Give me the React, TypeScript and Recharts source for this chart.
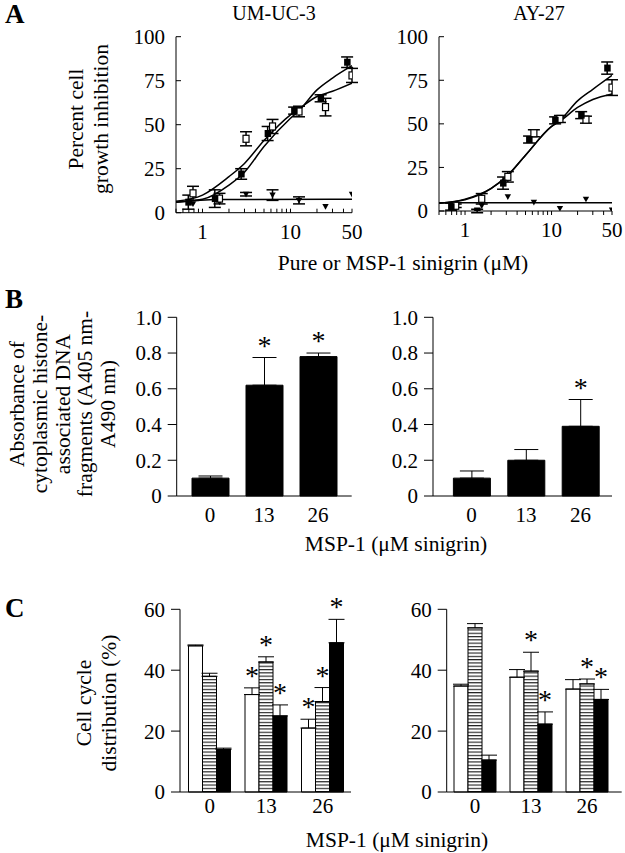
import React from 'react';
import { ComposedChart, BarChart, Bar, Line, Scatter, XAxis, YAxis, ErrorBar, LabelList } from 'recharts';

const FONT = '"Liberation Serif", "Times New Roman", serif';

// ---- Panel A: growth inhibition vs dose (log scale) ----
const pureDose = [0.78, 1.56, 3.125, 6.25, 12.5, 25, 50];
const mspDose = [0.69, 1.38, 2.75, 5.5, 11, 22, 44];
const fitDose = [0.5, 1, 2, 3, 5, 10, 12.5, 20, 30, 50];
const ctrlFitDose = [0.5, 1.5, 50];
const logTicks = [0.5, 0.6, 0.7, 0.8, 0.9, 1, 2, 3, 4, 5, 6, 7, 8, 9, 10, 20, 30, 40, 50];
const doseTickLabels = ['1', '10', '50'];
const pctTicks = [0, 25, 50, 75, 100];

const umMsp = [6, 8, 22, 45, 58, 65, 85.5];
const umMspErr = [4, 5, 3, 4, 2, 2, 3];
const umPure = [11, 8, 42, 49, 57.5, 60, 78];
const umPureErr = [4, 3, 4, 4, 3, 5, 4];
const umCtrl = [5, 6, 10.5, 10, 7, 3.5, 10.5];
const umCtrlErr = [0, 0, 1, 3, 2, 0, 0];
const umFitMsp = [6, 7.6, 15.7, 23, 37.6, 53.7, 58, 69.8, 76.5, 83.5];
const umFitPure = [6.5, 10, 20.5, 28, 41, 55.6, 59, 66, 69, 73.6];
const umFitCtrl = [6, 7.5, 7.6];

const ayMsp = [2.5, 0, 16, 41, 52, 55, 82];
const ayMspErr = [2, 1, 3.5, 2, 2, 2, 3.5];
const ayPure = [3, 7, 19.6, 44.6, 52.8, 52.4, 70.8];
const ayPureErr = [1, 3, 3, 2, 2, 2, 4.5];
const ayCtrl = [1.5, 3, 8.2, 5, 1.5, 6.8, 0.6];
const ayCtrlErr = [0, 0, 0, 0, 0, 0, 0];
const ayFitMsp = [4.5, 6.5, 12.9, 19.5, 32, 48.5, 52, 63.2, 69.8, 77.8];
const ayFitPure = [4.5, 6.8, 13, 19.7, 32, 48.5, 51.5, 59.4, 64, 67.2];
const ayFitCtrl = [4.8, 4.8, 4.8];

// ---- Panel B: histone-associated DNA fragments ----
const mspDoses = ['0', '13', '26'];
const absTicks = [0, 0.2, 0.4, 0.6, 0.8, 1.0];
const bUm = [0.1, 0.62, 0.78];
const bUmErr = [0.012, 0.155, 0.02];
const bUmSig = [false, true, true];
const bAy = [0.1, 0.2, 0.39];
const bAyErr = [0.04, 0.06, 0.15];
const bAySig = [false, false, true];

// ---- Panel C: cell cycle distribution ----
const cycTicks = [0, 20, 40, 60];
const cUmG1 = [48, 32, 21];
const cUmG1Err = [0.3, 2.2, 2.9];
const cUmG1Sig = [false, true, true];
const cUmS = [38, 42.7, 29.7];
const cUmSErr = [1, 1.7, 4.6];
const cUmSSig = [false, true, true];
const cUmG2 = [14, 25, 49];
const cUmG2Err = [0.4, 3.6, 7.7];
const cUmG2Sig = [false, true, true];
const cAyG1 = [34.8, 37.7, 33.8];
const cAyG1Err = [0.6, 2.5, 3.1];
const cAyG1Sig = [false, false, false];
const cAyS = [53.9, 39.7, 35.5];
const cAySErr = [1.4, 6.2, 1.6];
const cAySSig = [false, true, true];
const cAyG2 = [10.5, 22.3, 30.4];
const cAyG2Err = [1.6, 4, 3.3];
const cAyG2Sig = [false, true, true];

const pts = (xs: number[], ys: number[], es: number[]) => xs.map((x, i) => ({ x, y: ys[i], e: es[i] }));
const curve = (xs: number[], ys: number[]) => xs.map((x, i) => ({ x, y: ys[i] }));

type Box = { left: number; top: number; width: number; height: number };
type Plot = { x1: number; x2: number; y1: number; y2: number };

const XH = 30;
const frame = (box: Box, plot: Plot) => ({
  box,
  margin: {
    top: plot.y1 - box.top,
    right: box.left + box.width - plot.x2,
    bottom: box.top + box.height - plot.y2 - XH,
    left: 0,
  },
  yw: plot.x1 - box.left,
  ax: plot.x1 - box.left,
  ay: plot.y2 - box.top,
});

const filledSq = (p: any) => <rect x={p.cx - 3} y={p.cy - 3.5} width={6.5} height={7} fill="#000" />;
const openSq = (p: any) => (
  <rect x={p.cx - 3} y={p.cy - 3.5} width={6} height={7} fill="#fff" stroke="#000" strokeWidth={1.2} />
);
const downTri = (p: any) => (
  <polygon points={`${p.cx - 3.2},${p.cy - 2.5} ${p.cx + 3.2},${p.cy - 2.5} ${p.cx},${p.cy + 3.2}`} fill="#000" />
);

function DoseChart({ box, plot, msp, pure, ctrl, fits, tickDir }: any) {
  const f = frame(box, plot);
  const xTick = (p: any) => {
    const v = p.payload.value;
    const lab = doseTickLabels.find((t) => Number(t) === v);
    return (
      <g>
        <line x1={p.x} x2={p.x} y1={f.ay} y2={f.ay + tickDir * 4} stroke="#000" />
        {lab && (
          <text x={p.x} y={f.ay + 26} textAnchor="middle" fontSize={21} fill="#000">
            {lab}
          </text>
        )}
      </g>
    );
  };
  const yTick = (p: any) => (
    <g>
      <line x1={f.ax} x2={f.ax + 5} y1={p.y} y2={p.y} stroke="#000" />
      <text x={f.ax - 11} y={p.y} dy="0.35em" textAnchor="end" fontSize={21} fill="#000">
        {p.payload.value}
      </text>
    </g>
  );
  return (
    <div style={{ position: 'absolute', left: box.left, top: box.top }}>
      <ComposedChart width={box.width} height={box.height} margin={f.margin}>
        <XAxis
          dataKey="x"
          type="number"
          scale="log"
          domain={[0.5, 50]}
          ticks={logTicks}
          interval={0}
          allowDataOverflow
          tick={xTick}
          tickLine={false}
          height={XH}
          axisLine={{ stroke: '#000' }}
        />
        <YAxis
          type="number"
          domain={[0, 100]}
          ticks={pctTicks}
          interval={0}
          allowDataOverflow
          width={f.yw}
          tick={yTick}
          tickLine={false}
          axisLine={{ stroke: '#000' }}
        />
        <Line data={fits[0]} dataKey="y" type="monotone" stroke="#000" strokeWidth={1.5} dot={false} isAnimationActive={false} />
        <Line data={fits[1]} dataKey="y" type="monotone" stroke="#000" strokeWidth={1.5} dot={false} isAnimationActive={false} />
        <Line data={fits[2]} dataKey="y" type="monotone" stroke="#000" strokeWidth={1.5} dot={false} isAnimationActive={false} />
        <Scatter data={ctrl} dataKey="y" shape={downTri} isAnimationActive={false}>
          <ErrorBar dataKey="e" direction="y" width={6} stroke="#000" />
        </Scatter>
        <Scatter data={pure} dataKey="y" shape={openSq} isAnimationActive={false}>
          <ErrorBar dataKey="e" direction="y" width={6} stroke="#000" />
        </Scatter>
        <Scatter data={msp} dataKey="y" shape={filledSq} isAnimationActive={false}>
          <ErrorBar dataKey="e" direction="y" width={6} stroke="#000" />
        </Scatter>
      </ComposedChart>
    </div>
  );
}

const starContent = (sig: boolean[], vals: number[], errs: number[]) => (p: any) => {
  const i = p.value;
  if (!sig[i]) return null;
  const k = p.height / vals[i];
  const top = p.y - errs[i] * k;
  return (
    <text key={`s${i}`} x={p.x + p.width / 2} y={top - 3} textAnchor="middle" fontSize={28} fill="#000">
      *
    </text>
  );
};

type Series = { vals: number[]; errs: number[]; sig: boolean[]; fill: string };

function BarPanel({ box, plot, pad, barSize, series, yTicks, yFmt, errW, tickMargin, pid }: any) {
  const f = frame(box, plot);
  const rows = mspDoses.map((d, i) => {
    const r: any = { d, i };
    series.forEach((s: Series, k: number) => {
      r[`v${k}`] = s.vals[i];
      r[`e${k}`] = [0, s.errs[i]];
    });
    return r;
  });
  const top = yTicks[yTicks.length - 1];
  return (
    <div style={{ position: 'absolute', left: box.left, top: box.top }}>
      <BarChart width={box.width} height={box.height} data={rows} margin={f.margin} barGap={0} barSize={barSize}>
        <defs>
          <pattern id={pid} width={4} height={3.3} patternUnits="userSpaceOnUse">
            <rect width={4} height={3.3} fill="#fff" />
            <line x1={0} x2={4} y1={0.6} y2={0.6} stroke="#000" strokeWidth={1} />
          </pattern>
        </defs>
        <XAxis
          dataKey="d"
          padding={pad}
          tickLine={false}
          tickSize={0}
          tickMargin={tickMargin}
          height={XH}
          axisLine={{ stroke: '#000' }}
          tick={{ fontSize: 21, fill: '#000' }}
          interval={0}
        />
        <YAxis
          type="number"
          domain={[0, top]}
          ticks={yTicks}
          interval={0}
          width={f.yw}
          tickSize={9}
          tickMargin={6}
          tickFormatter={yFmt}
          axisLine={{ stroke: '#000' }}
          tickLine={{ stroke: '#000' }}
          tick={{ fontSize: 21, fill: '#000' }}
        />
        {series.map((s: Series, k: number) => (
          <Bar
            key={k}
            dataKey={`v${k}`}
            fill={s.fill === 'stripe' ? `url(#${pid})` : s.fill}
            stroke="#000"
            strokeWidth={1}
            isAnimationActive={false}
          >
            <ErrorBar dataKey={`e${k}`} direction="y" width={errW} stroke="#000" strokeWidth={1} />
            <LabelList dataKey="i" content={starContent(s.sig, s.vals, s.errs)} />
          </Bar>
        ))}
      </BarChart>
    </div>
  );
}

function RotLines({ lines, xs, cy, size }: { lines: string[]; xs: number[]; cy: number; size: number }) {
  return (
    <>
      {lines.map((l, i) => (
        <text
          key={i}
          transform={`translate(${xs[i]},${cy}) rotate(-90)`}
          textAnchor="middle"
          fontSize={size}
          fill="#000"
        >
          {l}
        </text>
      ))}
    </>
  );
}

export default function App() {
  const fmt1 = (v: number) => (v === 0 ? '0' : v.toFixed(1));
  return (
    <div
      style={{
        position: 'absolute',
        left: 0,
        top: 0,
        width: 625,
        height: 853,
        background: '#fff',
        fontFamily: FONT,
        overflow: 'hidden',
      }}
    >
      <DoseChart
        box={{ left: 110, top: 20, width: 260, height: 235 }}
        plot={{ x1: 176, x2: 352, y1: 36.7, y2: 212.7 }}
        msp={pts(mspDose, umMsp, umMspErr)}
        pure={pts(pureDose, umPure, umPureErr)}
        ctrl={pts(pureDose, umCtrl, umCtrlErr)}
        fits={[curve(fitDose, umFitMsp), curve(fitDose, umFitPure), curve(ctrlFitDose, umFitCtrl)]}
        tickDir={-1}
      />
      <DoseChart
        box={{ left: 375, top: 20, width: 250, height: 235 }}
        plot={{ x1: 439, x2: 612, y1: 36.7, y2: 211 }}
        msp={pts(mspDose, ayMsp, ayMspErr)}
        pure={pts(pureDose, ayPure, ayPureErr)}
        ctrl={pts(pureDose, ayCtrl, ayCtrlErr)}
        fits={[curve(fitDose, ayFitMsp), curve(fitDose, ayFitPure), curve(ctrlFitDose, ayFitCtrl)]}
        tickDir={1}
      />

      <BarPanel
        box={{ left: 110, top: 300, width: 250, height: 240 }}
        plot={{ x1: 176.7, x2: 351.7, y1: 317.3, y2: 496 }}
        pad={{ left: 6.3, right: 6.7 }}
        barSize={37}
        series={[{ vals: bUm, errs: bUmErr, sig: bUmSig, fill: '#000' }]}
        yTicks={absTicks}
        yFmt={fmt1}
        errW={12}
        tickMargin={11}
        pid="stripeB1"
      />
      <BarPanel
        box={{ left: 370, top: 300, width: 255, height: 240 }}
        plot={{ x1: 433, x2: 612, y1: 317.3, y2: 496 }}
        pad={{ left: 11.4, right: 4.4 }}
        barSize={37}
        series={[{ vals: bAy, errs: bAyErr, sig: bAySig, fill: '#000' }]}
        yTicks={absTicks}
        yFmt={fmt1}
        errW={12}
        tickMargin={11}
        pid="stripeB2"
      />

      <BarPanel
        box={{ left: 110, top: 570, width: 250, height: 255 }}
        plot={{ x1: 180, x2: 351, y1: 609.3, y2: 792 }}
        pad={{ left: 1.5, right: 0 }}
        barSize={14}
        series={[
          { vals: cUmG1, errs: cUmG1Err, sig: cUmG1Sig, fill: '#fff' },
          { vals: cUmS, errs: cUmSErr, sig: cUmSSig, fill: 'stripe' },
          { vals: cUmG2, errs: cUmG2Err, sig: cUmG2Sig, fill: '#000' },
        ]}
        yTicks={cycTicks}
        yFmt={(v: number) => String(v)}
        errW={8}
        tickMargin={6}
        pid="stripeC1"
      />
      <BarPanel
        box={{ left: 375, top: 570, width: 250, height: 255 }}
        plot={{ x1: 446.7, x2: 621.7, y1: 609.3, y2: 792 }}
        pad={{ left: 0.3, right: 6.7 }}
        barSize={14}
        series={[
          { vals: cAyG1, errs: cAyG1Err, sig: cAyG1Sig, fill: '#fff' },
          { vals: cAyS, errs: cAySErr, sig: cAySSig, fill: 'stripe' },
          { vals: cAyG2, errs: cAyG2Err, sig: cAyG2Sig, fill: '#000' },
        ]}
        yTicks={cycTicks}
        yFmt={(v: number) => String(v)}
        errW={8}
        tickMargin={6}
        pid="stripeC2"
      />

      <svg
        width={625}
        height={853}
        style={{ position: 'absolute', left: 0, top: 0, pointerEvents: 'none', fontFamily: FONT }}
      >
        <text x={5} y={23} fontSize={27} fontWeight="bold" fill="#000">A</text>
        <text x={5} y={308} fontSize={27} fontWeight="bold" fill="#000">B</text>
        <text x={5} y={617} fontSize={27} fontWeight="bold" fill="#000">C</text>

        <text x={274} y={19.5} textAnchor="middle" fontSize={20} fill="#000">UM-UC-3</text>
        <text x={539} y={19.5} textAnchor="middle" fontSize={20} fill="#000">AY-27</text>

        <RotLines lines={['Percent cell', 'growth inhibition']} xs={[83, 108]} cy={119} size={21.5} />
        <text x={403} y={270} textAnchor="middle" fontSize={21.5} fill="#000">Pure or MSP-1 sinigrin (μM)</text>

        <RotLines
          lines={['Absorbance of', 'cytoplasmic histone-', 'associated DNA', 'fragments (A405 nm-', 'A490 nm)']}
          xs={[24.3, 47, 69.7, 92.4, 115]}
          cy={404}
          size={21.5}
        />
        <text x={396} y={551} textAnchor="middle" fontSize={21.5} fill="#000">MSP-1 (μM sinigrin)</text>

        <RotLines lines={['Cell cycle', 'distribution (%)']} xs={[90.7, 116]} cy={703} size={21.5} />
        <text x={397} y={847} textAnchor="middle" fontSize={21.5} fill="#000">MSP-1 (μM sinigrin)</text>
      </svg>
    </div>
  );
}
